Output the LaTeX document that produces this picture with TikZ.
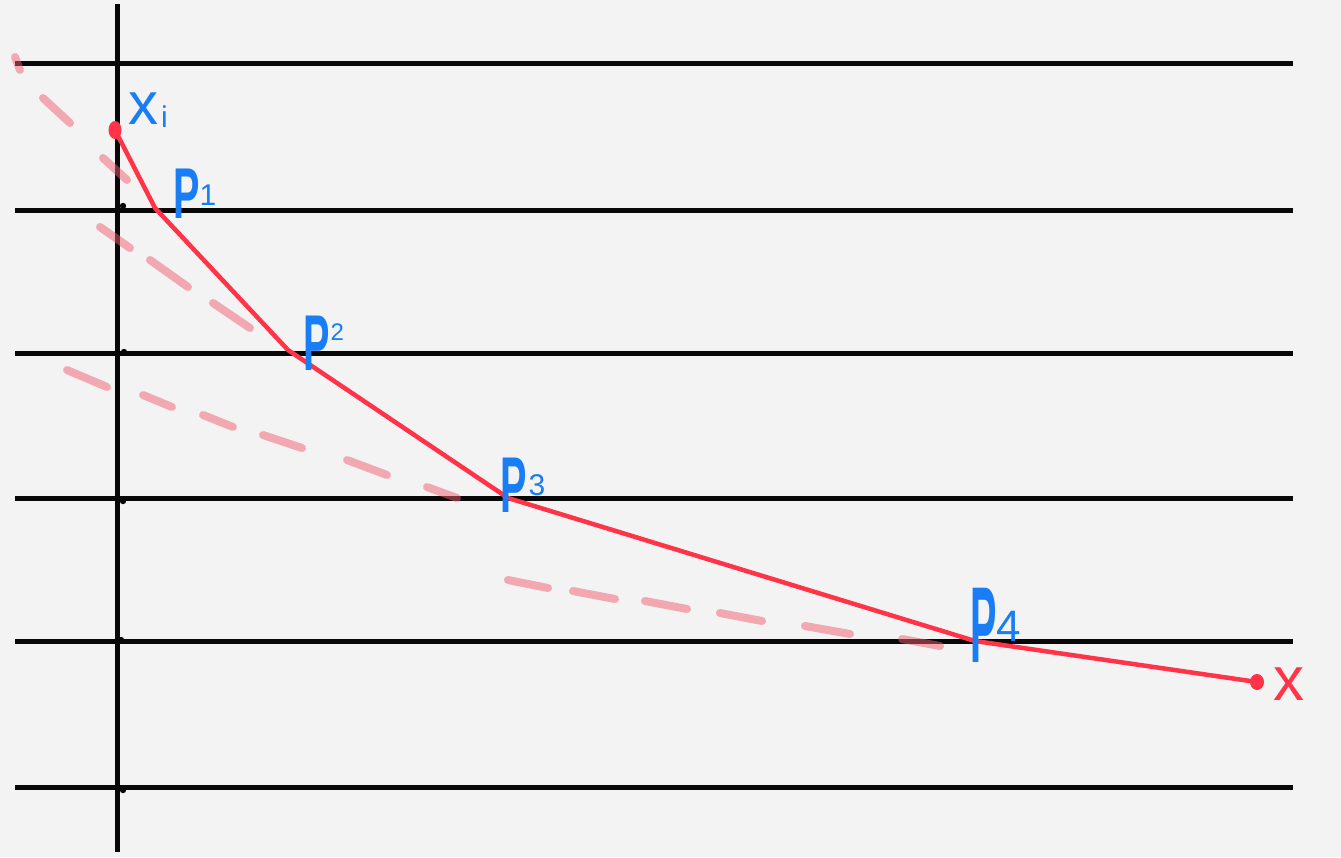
\documentclass[tikz,border=0pt]{standalone}
\usepackage{fontspec}
\setmainfont{Liberation Sans}
\definecolor{bg}{RGB}{243,243,243}
\definecolor{ink}{RGB}{8,8,8}
\definecolor{redline}{RGB}{255,52,72}
\definecolor{pinkdash}{RGB}{240,95,110}
\definecolor{bluelab}{RGB}{25,125,245}
\newcommand\lsub[3]{\raisebox{#2pt}{\fontsize{#1}{#1}\selectfont #3}}
\newcommand\narrowP[1]{\scalebox{0.55}[#1]{\bfseries P}}
\begin{document}
\begin{tikzpicture}[x=1pt,y=-1pt,
  gridline/.style={line width=5pt, draw=ink},
  redpath/.style={line width=4.5pt, draw=redline, line join=round},
  dashseg/.style={line width=8pt, draw=pinkdash, opacity=0.5, line cap=round},
  tickblob/.style={fill=ink},
  lab/.style={text=bluelab, font=\fontsize{60}{60}\selectfont, inner sep=0pt, anchor=base west},
  plab/.style={text=bluelab, font=\fontsize{72}{72}\selectfont, inner sep=0pt, anchor=base west},
  redlab/.style={text=redline, font=\fontsize{62}{62}\selectfont, inner sep=0pt, anchor=base west}
]
\fill[bg] (0,0) rectangle (1341,857);
\useasboundingbox (0,0) rectangle (1341,857);

% horizontal lines
\foreach \yy/\nm in {63/h1,210/h2,353/h3,498/h4,641/h5,787/h6}{
  \coordinate (\nm a) at (15,\yy);
  \coordinate (\nm b) at (1293,\yy);
  \draw[gridline] (\nm a) -- (\nm b);
}
% vertical axis
\coordinate (axtop) at (117,4);
\coordinate (axbot) at (117,852);
\draw[gridline] (axtop) -- (axbot);

% small tick blobs
\foreach \xx/\yy in {123/206,124/352,123/501,121/640,123/790}{
  \fill[tickblob] (\xx,\yy) circle (3.2);
}

% dashed extension lines
\foreach \xa/\ya/\xb/\yb in {
  15/57/20/70, 43/98/70/123, 103/158/127/180,
  100/227/130/248, 150/260/188/287, 213/303/250/328,
  67/370/107/387, 143/395/172/407, 203/415/233/427, 263/435/302/448, 347/460/387/475, 427/487/457/498,
  508/580/548/588, 573/591/615/599, 645/601/687/609, 720/613/762/621, 805/626/850/634, 902/639/940/646}{
  \draw[dashseg] (\xa,\ya) -- (\xb,\yb);
}

% main points
\coordinate (xi) at (115,130);
\coordinate (p1) at (155,208);
\coordinate (p2) at (288,350);
\coordinate (p3) at (508,498);
\coordinate (p4) at (975,641);
\coordinate (xx) at (1257,682);

\draw[redpath] (xi) -- (p1) -- (p2) -- (p3) -- (p4) -- (xx);
\fill[redline] (xi) ellipse (6.5 and 9);
\fill[redline] (xx) ellipse (7 and 8);

% labels
\node[lab] (lxi) at (128,124) {x\kern3pt\lsub{30}{-3}{i}};
\node[plab] (lp1) at (173,218) {\narrowP{1}\kern0pt\lsub{30}{13}{1}};
\node[plab] (lp2) at (303,370) {\narrowP{1.1}\kern1pt\lsub{24}{30}{2}};
\node[plab] (lp3) at (500,512) {\narrowP{1.1}\kern2pt\lsub{30}{17}{3}};
\node[plab] (lp4) at (970,662) {\narrowP{1.5}\kern0pt\lsub{44}{21}{4}};
\node[redlab] (lx) at (1273,700) {x};
\end{tikzpicture}
\end{document}
